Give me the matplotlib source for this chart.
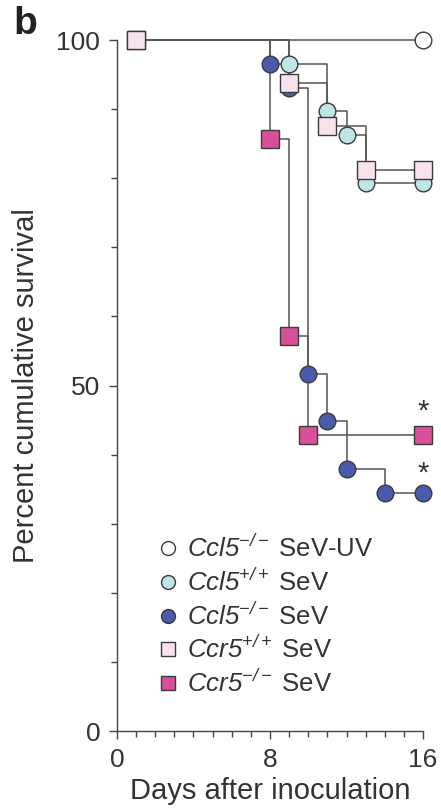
import numpy as np
import matplotlib
matplotlib.use("Agg")
import matplotlib.pyplot as plt
from matplotlib.ticker import MultipleLocator, FixedLocator

plt.rcParams['font.family'] = ['Liberation Sans', 'DejaVu Sans']
plt.rcParams['mathtext.fontset'] = 'custom'
# gene names are italic throughout, digits included
plt.rcParams['mathtext.rm'] = 'Liberation Sans:italic'
plt.rcParams['mathtext.it'] = 'Liberation Sans:italic'

# Kaplan-Meier style survival steps (day, percent surviving)
uv_days = [1, 16]
uv_surv = [100, 100]

ccl5_wt_days = [1, 9, 11, 12, 13, 16]
ccl5_wt_surv = [100, 96.6, 89.7, 86.2, 79.3, 79.3]

ccl5_ko_days = [1, 8, 9, 10, 11, 12, 14, 16]
ccl5_ko_surv = [100, 96.6, 93.1, 51.7, 44.8, 37.9, 34.5, 34.5]

ccr5_wt_days = [1, 9, 11, 13, 16]
ccr5_wt_surv = [100, 93.75, 87.5, 81.25, 81.25]

ccr5_ko_days = [1, 8, 9, 10, 16]
ccr5_ko_surv = [100, 85.7, 57.1, 42.9, 42.9]

labels = [r'$Ccl5^{-/-}$ SeV-UV',
          r'$Ccl5^{+/+}$ SeV',
          r'$Ccl5^{-/-}$ SeV',
          r'$Ccr5^{+/+}$ SeV',
          r'$Ccr5^{-/-}$ SeV']

line_col = '#555555'
edge_col = '#3a3a3a'

fig = plt.figure(figsize=(4.41, 8.09), dpi=100)
ax = fig.add_axes([0.2653, 0.0964, 0.6939, 0.8541])

# (days, survival, marker, face colour, zorder) in legend order
series = [
    (uv_days, uv_surv, 'o', 'white', 1),
    (ccl5_wt_days, ccl5_wt_surv, 'o', '#bfe6e6', 3),
    (ccl5_ko_days, ccl5_ko_surv, 'o', '#4b5bab', 2),
    (ccr5_wt_days, ccr5_wt_surv, 's', '#f8e2ed', 5),
    (ccr5_ko_days, ccr5_ko_surv, 's', '#d9509a', 4),
]

for days, surv, mk, fc, z in series:
    ax.step(days, surv, where='post', color=line_col, lw=1.1, zorder=z, clip_on=False)
    ax.plot(days, surv, linestyle='none', marker=mk, markersize=12 if mk == 'o' else 12.5,
            markerfacecolor=fc, markeredgecolor=edge_col, markeredgewidth=1.0,
            zorder=z + 5, clip_on=False)

# significance stars
ax.text(16, ccr5_ko_surv[-1] + 1.3, '*', ha='center', va='bottom', fontsize=21, color='#333333')
ax.text(16, ccl5_ko_surv[-1] + 0.8, '*', ha='center', va='bottom', fontsize=21, color='#333333')

ax.set_xlim(0, 16)
ax.set_ylim(0, 100)
for s in ['top', 'right']:
    ax.spines[s].set_visible(False)
ax.spines['left'].set_bounds(0, 100)
ax.spines['bottom'].set_bounds(0, 16)
for s in ['left', 'bottom']:
    ax.spines[s].set_color('#444444')
    ax.spines[s].set_linewidth(1.0)

ax.xaxis.set_major_locator(FixedLocator([0, 8, 16]))
ax.xaxis.set_minor_locator(MultipleLocator(1))
ax.yaxis.set_major_locator(FixedLocator([0, 50, 100]))
ax.yaxis.set_minor_locator(MultipleLocator(10))
ax.tick_params(axis='both', which='major', direction='out', length=6, width=1.0,
               colors='#444444', labelcolor='#333333', labelsize=19, pad=6)
ax.tick_params(axis='both', which='minor', direction='out', length=4, width=1.0, colors='#444444')

ax.set_xlabel('Days after inoculation', fontsize=21, color='#333333', labelpad=4)
ax.set_ylabel('Percent cumulative survival', fontsize=21, color='#333333')
ax.yaxis.set_label_coords(-0.25, 0.50)

# legend
handles = []
for days, surv, mk, fc, z in series:
    h, = ax.plot([], [], linestyle='none', marker=mk, markersize=10,
                 markerfacecolor=fc, markeredgecolor=edge_col, markeredgewidth=1.0)
    handles.append(h)
leg = ax.legend(handles, labels, loc='lower left', bbox_to_anchor=(0.1, 0.035),
                frameon=False, fontsize=18.5, handlelength=0.8, handletextpad=0.35,
                labelspacing=0.25, borderaxespad=0)
for t in leg.get_texts():
    t.set_color('#333333')

fig.text(0.03, 0.97, 'b', fontsize=28, fontweight='bold', ha='left', va='center', color='#222222')

fig.savefig('out.png', dpi=100)
